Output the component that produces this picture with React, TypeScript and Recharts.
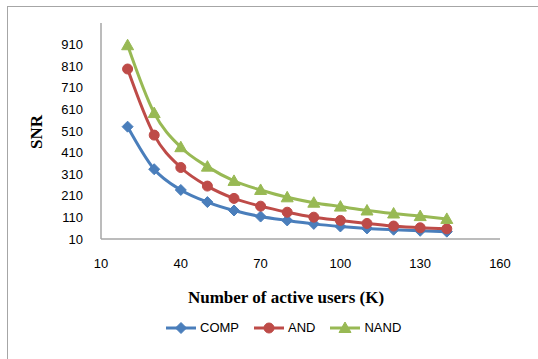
import { LineChart, Line, XAxis, YAxis, Legend, Label } from 'recharts';

const users = [20, 30, 40, 50, 60, 70, 80, 90, 100, 110, 120, 130, 140];
const comp = [530, 333, 237, 181, 142, 114, 96, 80, 68, 59, 53, 48, 44];
const and = [797, 491, 341, 255, 198, 162, 134, 111, 96, 82, 70, 62, 57];
const nand = [907, 593, 435, 345, 279, 237, 203, 178, 160, 142, 128, 116, 103];

const xTicks = [10, 40, 70, 100, 130, 160];
const yTicks = [10, 110, 210, 310, 410, 510, 610, 710, 810, 910];

const data = users.map((u, i) => ({ users: u, COMP: comp[i], AND: and[i], NAND: nand[i] }));

const colors = {
  COMP: '#4a7ebb',
  AND: '#be4b48',
  NAND: '#98b954',
};

const tickFont = { fontSize: 13, fill: '#000', fontFamily: 'Liberation Sans, Arial, sans-serif' };
const titleFont = 'Liberation Serif, Times New Roman, serif';

const Diamond = ({ cx, cy, color }: any) => (
  <path d={`M${cx},${cy - 5.5} L${cx + 5.5},${cy} L${cx},${cy + 5.5} L${cx - 5.5},${cy} Z`} fill={color} stroke={color} />
);
const Circle = ({ cx, cy, color }: any) => <circle cx={cx} cy={cy} r={5} fill={color} stroke={color} />;
const Triangle = ({ cx, cy, color }: any) => (
  <path d={`M${cx},${cy - 6} L${cx + 6},${cy + 4.5} L${cx - 6},${cy + 4.5} Z`} fill={color} stroke={color} />
);

const markers: any = { COMP: Diamond, AND: Circle, NAND: Triangle };

const renderLegend = () => (
  <div style={{ display: 'flex', paddingLeft: 165, gap: 14, fontFamily: 'Liberation Sans, Arial, sans-serif', fontSize: 13 }}>
    {(['COMP', 'AND', 'NAND'] as const).map((k) => {
      const M = markers[k];
      return (
        <div key={k} style={{ display: 'flex', alignItems: 'center', gap: 3 }}>
          <svg width={32} height={14}>
            <line x1={1} y1={7} x2={31} y2={7} stroke={colors[k]} strokeWidth={3} />
            <M cx={16} cy={7} color={colors[k]} />
          </svg>
          <span>{k}</span>
        </div>
      );
    })}
  </div>
);

export default function App() {
  return (
    <div style={{ position: 'absolute', left: 0, top: 0, width: 538, height: 359, background: '#fff', overflow: 'hidden' }}>
      <div style={{ position: 'absolute', left: 7, top: 6, width: 600, height: 400, border: '1px solid #a6a6a6' }} />
      <LineChart width={538} height={359} data={data} margin={{ top: 23, right: 38, left: 0, bottom: 0 }}>
        <XAxis
          dataKey="users"
          type="number"
          domain={[10, 160]}
          ticks={xTicks}
          interval={0}
          tickLine={false}
          axisLine={{ stroke: '#a6a6a6', strokeWidth: 1.5 }}
          tick={tickFont}
          tickMargin={14}
          height={120}
        >
          <Label
            content={() => (
              <text x={286} y={303} textAnchor="middle" fontFamily={titleFont} fontWeight="bold" fontSize={17} fill="#000">
                Number of active users (K)
              </text>
            )}
          />
        </XAxis>
        <YAxis
          type="number"
          domain={[10, 1010]}
          ticks={yTicks}
          interval={0}
          tickLine={false}
          axisLine={{ stroke: '#a6a6a6', strokeWidth: 1.5 }}
          tick={tickFont}
          tickMargin={12}
          width={101}
        >
          <Label
            content={() => (
              <text
                x={0}
                y={0}
                transform="translate(42,132) rotate(-90)"
                textAnchor="middle"
                fontFamily={titleFont}
                fontWeight="bold"
                fontSize={17}
                fill="#000"
              >
                SNR
              </text>
            )}
          />
        </YAxis>
        <Legend
          content={renderLegend}
          layout="horizontal"
          verticalAlign="middle"
          align="center"
          wrapperStyle={{ top: 320, left: 0, width: 538 }}
        />
        {(['COMP', 'AND', 'NAND'] as const).map((k) => {
          const M = markers[k];
          return (
            <Line
              key={k}
              dataKey={k}
              type="monotone"
              stroke={colors[k]}
              strokeWidth={3}
              isAnimationActive={false}
              dot={(p: any) => <M key={`${k}-${p.index}`} cx={p.cx} cy={p.cy} color={colors[k]} />}
              activeDot={false}
            />
          );
        })}
      </LineChart>
    </div>
  );
}
